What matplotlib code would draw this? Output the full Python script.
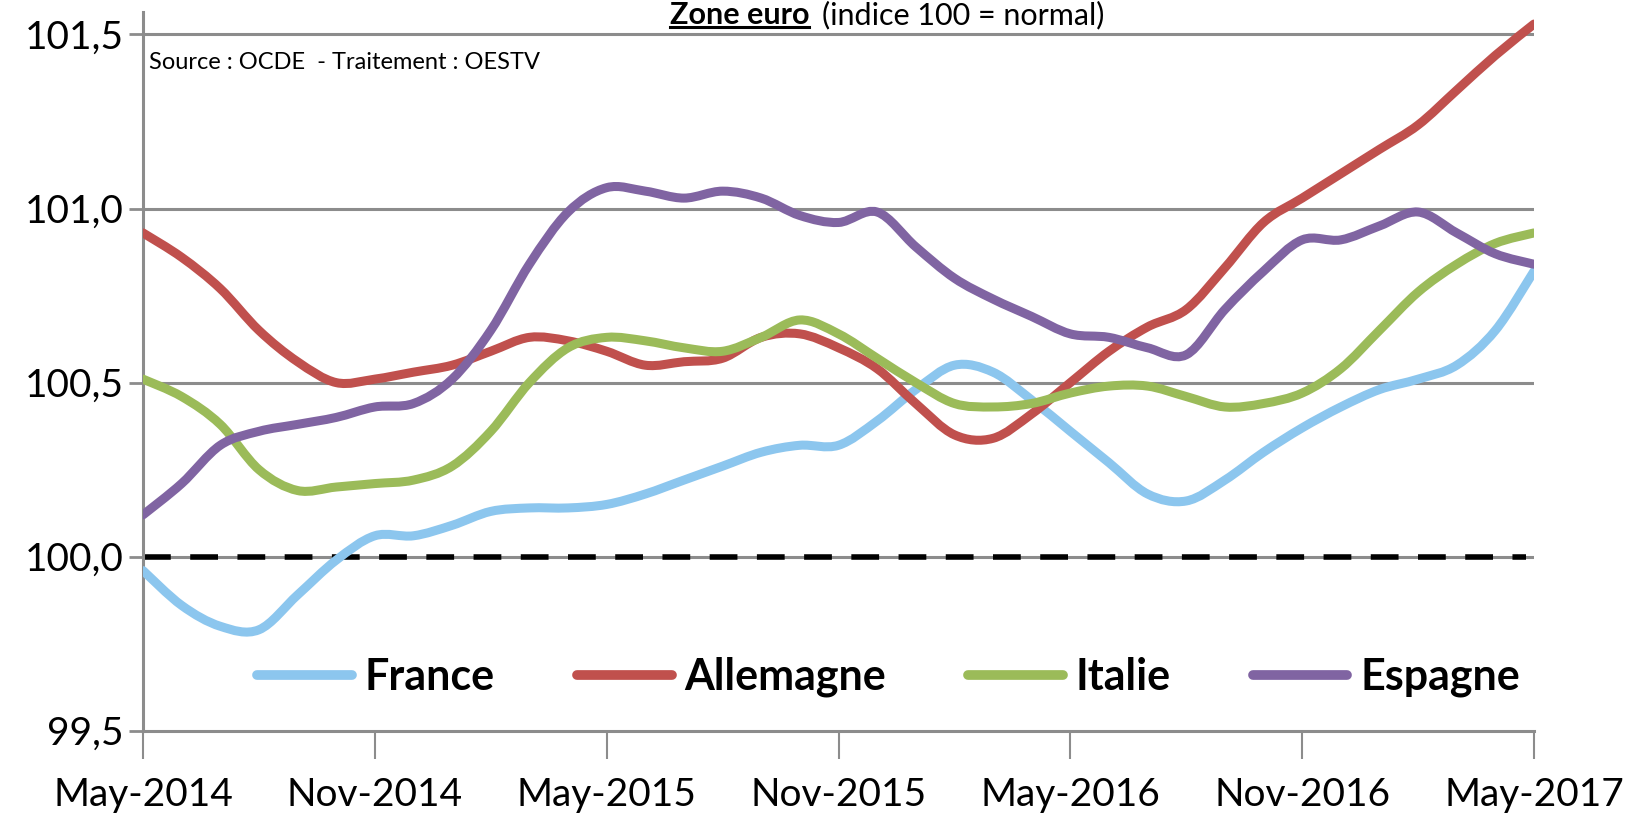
import matplotlib
matplotlib.use("Agg")
import matplotlib.pyplot as plt
from matplotlib.path import Path
from matplotlib.patches import PathPatch
from matplotlib.lines import Line2D

plt.rcParams['font.family'] = ['Lato', 'DejaVu Sans']

# monthly values, May-2014 .. May-2017
france = [99.96, 99.86, 99.80, 99.79, 99.89, 99.99, 100.06, 100.06, 100.09, 100.13,
          100.14, 100.14, 100.15, 100.18, 100.22, 100.26, 100.30, 100.32, 100.32, 100.39,
          100.48, 100.55, 100.53, 100.45, 100.36, 100.27, 100.18, 100.16, 100.22, 100.30,
          100.37, 100.43, 100.48, 100.51, 100.55, 100.65, 100.82]
allemagne = [100.93, 100.86, 100.77, 100.65, 100.56, 100.50, 100.51, 100.53, 100.55, 100.59,
             100.63, 100.62, 100.59, 100.55, 100.56, 100.57, 100.63, 100.64, 100.60, 100.54,
             100.44, 100.35, 100.34, 100.41, 100.50, 100.59, 100.66, 100.71, 100.83, 100.96,
             101.03, 101.10, 101.17, 101.24, 101.34, 101.44, 101.53]
italie = [100.51, 100.46, 100.38, 100.25, 100.19, 100.20, 100.21, 100.22, 100.26, 100.36,
          100.50, 100.60, 100.63, 100.62, 100.60, 100.59, 100.63, 100.68, 100.64, 100.57,
          100.50, 100.44, 100.43, 100.44, 100.47, 100.49, 100.49, 100.46, 100.43, 100.44,
          100.47, 100.54, 100.65, 100.76, 100.84, 100.90, 100.93]
espagne = [100.12, 100.21, 100.32, 100.36, 100.38, 100.40, 100.43, 100.44, 100.51, 100.65,
           100.84, 100.99, 101.06, 101.05, 101.03, 101.05, 101.03, 100.98, 100.96, 100.99,
           100.89, 100.80, 100.74, 100.69, 100.64, 100.63, 100.60, 100.58, 100.71, 100.82,
           100.91, 100.91, 100.95, 100.99, 100.93, 100.87, 100.84]

series = {"France": france, "Allemagne": allemagne, "Italie": italie, "Espagne": espagne}
colors = {"France": "#8cc6ee", "Allemagne": "#c0504d", "Italie": "#9bbb59", "Espagne": "#8064a2"}

tick_labels = ["May-2014", "Nov-2014", "May-2015", "Nov-2015", "May-2016", "Nov-2016", "May-2017"]
y_ticks = [99.5, 100.0, 100.5, 101.0, 101.5]

months = list(range(len(france)))


def smooth_path(xs, ys):
    # Excel-like smoothed line: Catmull-Rom segments drawn as cubic Beziers
    n = len(xs)
    verts = [(xs[0], ys[0])]
    codes = [Path.MOVETO]
    for i in range(n - 1):
        i0, i3 = max(i - 1, 0), min(i + 2, n - 1)
        c1 = (xs[i] + (xs[i + 1] - xs[i0]) / 6, ys[i] + (ys[i + 1] - ys[i0]) / 6)
        c2 = (xs[i + 1] - (xs[i3] - xs[i]) / 6, ys[i + 1] - (ys[i3] - ys[i]) / 6)
        verts += [c1, c2, (xs[i + 1], ys[i + 1])]
        codes += [Path.CURVE4] * 3
    return Path(verts, codes)


fig = plt.figure(figsize=(16.25, 8.14), dpi=100)
ax = fig.add_axes([0.088, 0.1023, 0.856, 0.8827])

grid_c = "#8c8c8c"
for v in y_ticks[1:]:
    ax.axhline(v, color=grid_c, lw=2.2, zorder=1)

ax.plot([0, 35.8], [100, 100], color="black", lw=4, ls=(0, (5, 3.5)), zorder=2)

handles = []
for name, vals in series.items():
    ax.add_patch(PathPatch(smooth_path(months, vals), facecolor="none",
                           edgecolor=colors[name], lw=6.5, capstyle="round",
                           joinstyle="round", zorder=3))
    handles.append(Line2D([], [], color=colors[name], lw=7, solid_capstyle="round", label=name))

ax.set_xlim(0, 36)
ax.set_ylim(99.5, 101.564)
ax.set_xticks(range(0, 37, 6))
ax.set_xticklabels(tick_labels, fontsize=28)
ax.set_yticks(y_ticks)
ax.set_yticklabels([f"{v:.1f}".replace(".", ",") for v in y_ticks], fontsize=28)

for s in ["top", "right"]:
    ax.spines[s].set_visible(False)
for s in ["left", "bottom"]:
    ax.spines[s].set_color(grid_c)
    ax.spines[s].set_linewidth(2.2)
ax.tick_params(axis="x", length=20, width=1.5, color=grid_c, pad=13, direction="out")
ax.tick_params(axis="y", length=10, width=2, color=grid_c, pad=4)

ax.text(0.004, 0.93, "Source : OCDE  - Traitement : OESTV", transform=ax.transAxes,
        fontsize=17, va="center", ha="left")

leg = ax.legend(handles=handles, loc="center", bbox_to_anchor=(0.536, 0.075), ncol=4,
                frameon=False, handlelength=2.2, handletextpad=0.3, columnspacing=1.9,
                prop={"size": 31, "weight": "bold"})

# title
t1 = fig.text(0.498, 0.999, "Zone euro", fontsize=22, fontweight="bold", ha="right", va="top")
fig.text(0.506, 0.999, "(indice 100 = normal)", fontsize=22, ha="left", va="top")
fig.canvas.draw()
bb = t1.get_window_extent().transformed(fig.transFigure.inverted())
fig.add_artist(Line2D([bb.x0, bb.x1], [bb.y0 + 0.002, bb.y0 + 0.002], color="black", lw=2.2,
                      transform=fig.transFigure))

fig.savefig("out.png", dpi=100)
